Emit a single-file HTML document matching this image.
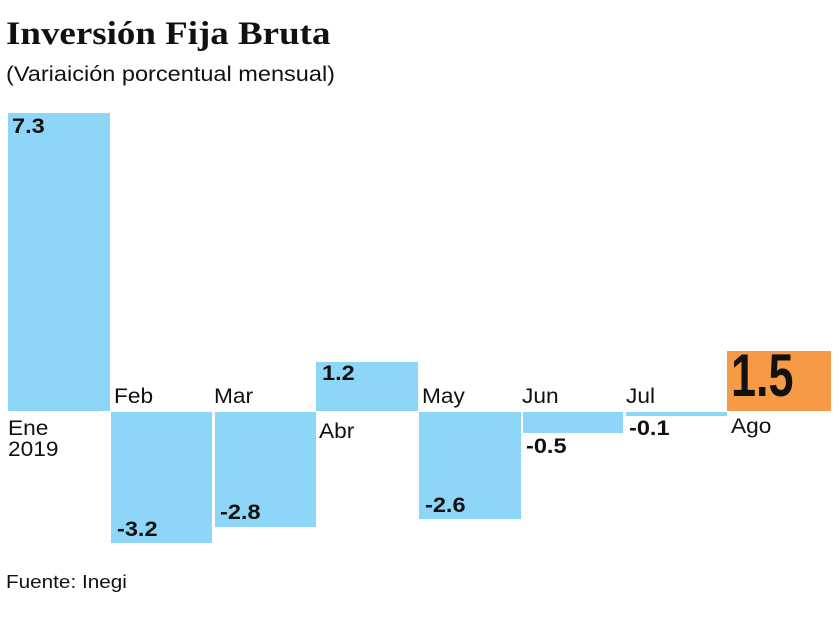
<!DOCTYPE html><html><head><style>
body{margin:0;width:835px;height:620px;background:#fff;position:relative;overflow:hidden;font-family:"Liberation Sans",sans-serif;color:#111}
.b{position:absolute;background:#8ed6f7}
.t{position:absolute;font-size:21px;line-height:21px;transform:scaleX(1.08);transform-origin:left}
.v{position:absolute;font-size:21px;font-weight:bold;line-height:20px;transform:scaleX(1.12);transform-origin:left}
</style></head><body>
<div style="position:absolute;left:6px;top:16px;font-family:'Liberation Serif',serif;font-weight:bold;font-size:33px;transform:scaleX(1.12);transform-origin:left">Inversión Fija Bruta</div>
<div style="position:absolute;left:6px;top:64px;font-size:21px;line-height:22px;transform:scaleX(1.12);transform-origin:left">(Variaición porcentual mensual)</div>
<div class="b" style="left:8px;top:113px;width:102px;height:298px"></div>
<div class="b" style="left:111px;top:412px;width:101px;height:131px"></div>
<div class="b" style="left:215px;top:412px;width:101px;height:115px"></div>
<div class="b" style="left:316px;top:362px;width:102px;height:49px"></div>
<div class="b" style="left:419px;top:412px;width:102px;height:107px"></div>
<div class="b" style="left:523px;top:412px;width:100px;height:21px"></div>
<div class="b" style="left:626px;top:412px;width:101px;height:4px"></div>
<div style="position:absolute;left:727px;top:351px;width:104px;height:60px;background:#f79a45"></div>
<div class="v" style="left:12px;top:117px">7.3</div>
<div class="v" style="left:117px;top:520px">-3.2</div>
<div class="v" style="left:220px;top:503px">-2.8</div>
<div class="v" style="left:322px;top:364px">1.2</div>
<div class="v" style="left:425px;top:496px">-2.6</div>
<div class="v" style="left:526px;top:437px">-0.5</div>
<div class="v" style="left:629px;top:419px">-0.1</div>
<div style="position:absolute;left:731px;top:346px;font-size:60px;font-weight:bold;line-height:60px;transform:scaleX(0.75);transform-origin:left">1.5</div>
<div class="t" style="left:8px;top:418px">Ene<br>2019</div>
<div class="t" style="left:114px;top:386px">Feb</div>
<div class="t" style="left:214px;top:386px">Mar</div>
<div class="t" style="left:319px;top:421px">Abr</div>
<div class="t" style="left:422px;top:386px">May</div>
<div class="t" style="left:522px;top:386px">Jun</div>
<div class="t" style="left:626px;top:386px">Jul</div>
<div class="t" style="left:731px;top:416px">Ago</div>
<div style="position:absolute;left:6px;top:572px;font-size:18px;transform:scaleX(1.15);transform-origin:left">Fuente: Inegi</div>
</body></html>
